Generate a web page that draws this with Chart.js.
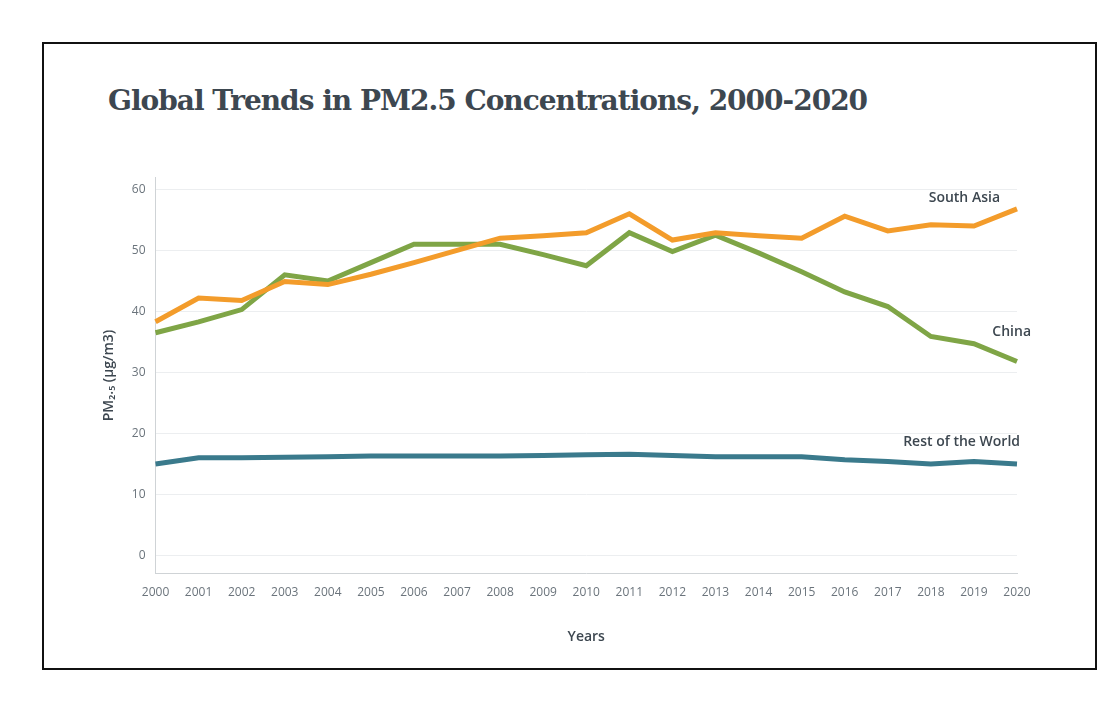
<!DOCTYPE html>
<html>
<head>
<meta charset="utf-8">
<script src="https://cdn.jsdelivr.net/npm/chart.js@4/dist/chart.umd.min.js"></script>
<style>
  body { margin: 0; background: #fff; width: 1098px; height: 712px; position: relative; }
  #frame { position: absolute; left: 42px; top: 42px; width: 1051px; height: 624px; border: 2px solid #111; }
  #title { position: absolute; left: 108px; top: 84px; font-family: "DejaVu Serif", serif; font-weight: bold;
           font-size: 28px; color: #3d4750; letter-spacing: -1px; }
  #wrap { position: absolute; left: 97px; top: 160px; width: 963px; height: 489px; }
</style>
</head>
<body>
<div id="frame"></div>
<div id="title">Global Trends in PM2.5 Concentrations, 2000-2020</div>
<div id="wrap"><canvas id="pmChart"></canvas></div>
<script>
const years = ["2000","2001","2002","2003","2004","2005","2006","2007","2008","2009","2010",
  "2011","2012","2013","2014","2015","2016","2017","2018","2019","2020"];
const southAsia = [38.3, 42.2, 41.8, 44.9, 44.4, 46.1, 48.0, 50.0, 52.0, 52.4, 52.9,
  56.0, 51.7, 52.9, 52.4, 52.0, 55.6, 53.2, 54.2, 54.0, 56.8];
const china = [36.5, 38.3, 40.3, 46.0, 45.0, 48.0, 51.0, 51.0, 51.0, 49.3, 47.5,
  52.9, 49.8, 52.5, 49.6, 46.5, 43.2, 40.8, 35.9, 34.7, 31.8];
const restOfWorld = [15.0, 16.0, 16.0, 16.1, 16.2, 16.3, 16.3, 16.3, 16.3, 16.4, 16.5,
  16.6, 16.4, 16.2, 16.2, 16.2, 15.7, 15.4, 15.0, 15.4, 15.0];
const yTicks = [0, 10, 20, 30, 40, 50, 60];

// end-of-line labels, anchored on the last point of each series
const endLabels = {
  id: "endLabels",
  afterDatasetsDraw(chart) {
    const c = chart.ctx;
    const offsets = [[-17, -11], [14, -29], [3, -22]];
    chart.data.datasets.forEach((ds, i) => {
      const pts = chart.getDatasetMeta(i).data;
      const p = pts[pts.length - 1];
      c.save();
      c.font = "600 14px 'Open Sans', sans-serif";
      c.fillStyle = "#3d4750";
      c.textAlign = "right";
      c.textBaseline = "middle";
      c.fillText(ds.label, p.x + offsets[i][0], p.y + offsets[i][1]);
      c.restore();
    });
  }
};

new Chart(document.getElementById("pmChart"), {
  type: "line",
  data: {
    labels: years,
    datasets: [
      { label: "South Asia", data: southAsia, borderColor: "#f39c2b" },
      { label: "China", data: china, borderColor: "#7fa546" },
      { label: "Rest of the World", data: restOfWorld, borderColor: "#3a7a8c" }
    ].map(d => Object.assign(d, { borderWidth: 5, pointRadius: 0, tension: 0, fill: false }))
  },
  options: {
    responsive: true,
    maintainAspectRatio: false,
    animation: false,
    layout: { padding: { right: 43, top: 10 } },
    plugins: { legend: { display: false }, tooltip: { enabled: false } },
    scales: {
      x: {
        offset: false,
        grid: { display: false, drawTicks: false },
        border: { color: "#cfd3d6" },
        ticks: { color: "#6b747c", font: { size: 12, family: "Open Sans" }, padding: 12, maxRotation: 0, autoSkip: false },
        title: { display: true, text: "Years", color: "#3d4750", font: { size: 14, weight: "600", family: "Open Sans" }, padding: { top: 16 } }
      },
      y: {
        min: -3, max: 62,
        afterBuildTicks: (s) => { s.ticks = yTicks.map(v => ({ value: v })); },
        grid: { color: "#eceef0", drawTicks: false },
        border: { color: "#cfd3d6" },
        ticks: { color: "#6b747c", font: { size: 12, family: "Open Sans" }, padding: 10 },
        title: { display: true, text: "PM₂.₅ (µg/m3)", color: "#3d4750", font: { size: 14, weight: "600", family: "Open Sans" } }
      }
    }
  },
  plugins: [endLabels]
});
</script>
</body>
</html>
